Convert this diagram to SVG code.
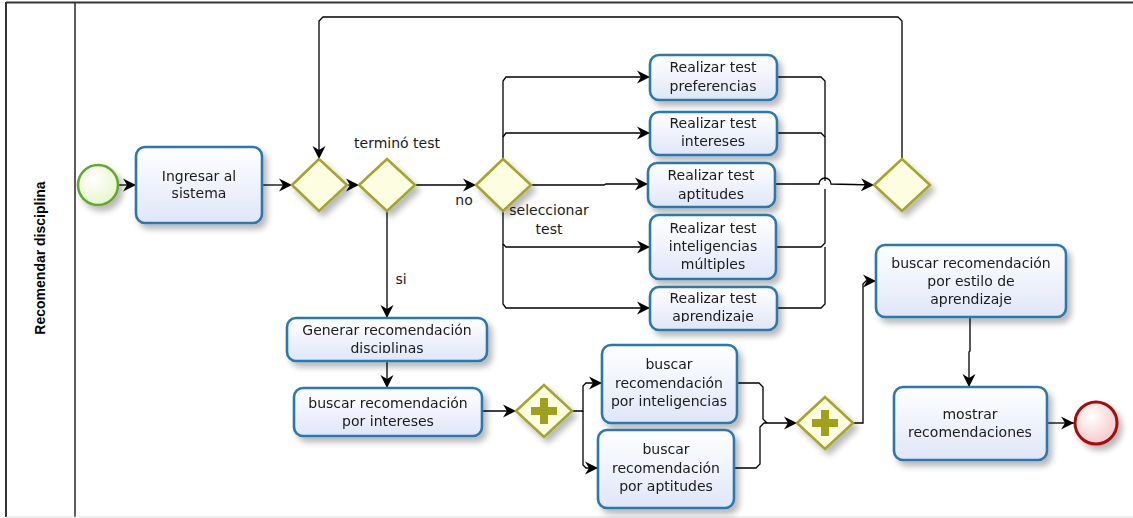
<svg xmlns="http://www.w3.org/2000/svg" width="1133" height="518" viewBox="0 0 1133 518">
  <defs>
    <linearGradient id="taskFill" x1="0" y1="0" x2="0" y2="1">
      <stop offset="0" stop-color="#ffffff"/>
      <stop offset="1" stop-color="#dfe6f8"/>
    </linearGradient>
    <radialGradient id="startFill" cx="0.4" cy="0.35" r="0.7">
      <stop offset="0" stop-color="#ffffff"/>
      <stop offset="1" stop-color="#e6f5c8"/>
    </radialGradient>
    <radialGradient id="endFill" cx="0.4" cy="0.35" r="0.7">
      <stop offset="0" stop-color="#ffffff"/>
      <stop offset="1" stop-color="#f3c6c6"/>
    </radialGradient>
    <filter id="shadow" x="-20%" y="-20%" width="150%" height="160%">
      <feGaussianBlur in="SourceAlpha" stdDeviation="3"/>
      <feOffset dx="4" dy="5" result="b"/>
      <feComponentTransfer><feFuncA type="linear" slope="0.28"/></feComponentTransfer>
      <feMerge><feMergeNode/><feMergeNode in="SourceGraphic"/></feMerge>
    </filter>
    <marker id="arrow" markerUnits="userSpaceOnUse" markerWidth="14" markerHeight="14" refX="13" refY="7" orient="auto">
      <path d="M0,0.5 L13,7 L0,13.5 L4,7 Z" fill="#000"/>
    </marker>
    <clipPath id="clipAprend"><rect x="650" y="287" width="127" height="35"/></clipPath>
    <clipPath id="clipGenerar"><rect x="287" y="318" width="200" height="35"/></clipPath>
    <style>
      .task { fill: url(#taskFill); stroke: #2a78ad; stroke-width: 2.6; }
      .gw { fill: #fdfde2; stroke: #a5a52c; stroke-width: 2.6; }
      .plus { fill: #a0a01e; }
      .lbl { font-family: "DejaVu Sans", "Liberation Sans", sans-serif; font-size: 14px; fill: #1a1a1a; text-anchor: middle; }
      .edge { fill: none; stroke: #000; stroke-width: 1.3; }
      .arr { marker-end: url(#arrow); }
      .lane { font-family: "Liberation Sans", "DejaVu Sans", sans-serif; font-size: 14px; font-weight: bold; fill: #000; text-anchor: middle; }
    </style>
  </defs>

  <rect width="1133" height="518" fill="#ffffff"/>

  <!-- pool and lane -->
  <g id="pool">
    <line x1="6" y1="2.5" x2="1133" y2="2.5" stroke="#333" stroke-width="2"/>
    <line x1="6" y1="2" x2="6" y2="517" stroke="#333" stroke-width="2"/>
    <line x1="75" y1="2" x2="75" y2="517" stroke="#333" stroke-width="1.6"/>
    <line x1="6" y1="517" x2="1133" y2="517" stroke="#dcdcdc" stroke-width="1"/>
    <text class="lane" transform="translate(45,258) rotate(-90)">Recomendar disciplina</text>
  </g>

  <!-- connectors -->
  <g id="connectors">
    <path class="edge arr" d="M118,185 L136,185"/>
    <path class="edge arr" d="M262,185 L292,185"/>
    <path class="edge arr" d="M347,185 L359,185"/>
    <path class="edge arr" d="M415,185 L476,185"/>
    <path class="edge arr" d="M387,211 L387,318"/>
    <!-- loop back from the closing gateway -->
    <path class="edge arr" d="M902,159 L902,21 L898,17 L323,17 L319,21 L319,159"/>
    <!-- test selection branches -->
    <path class="edge arr" d="M503,159 L503,81 L506,77 L650,77"/>
    <path class="edge arr" d="M503,137 L506,133 L650,133"/>
    <path class="edge arr" d="M531,185 L604,185 L606,184 L648,184"/>
    <path class="edge arr" d="M503,211 L503,244 L506,247 L650,247"/>
    <path class="edge arr" d="M503,244 L503,304 L506,308 L650,308"/>
    <!-- test outputs into the closing gateway -->
    <path class="edge" d="M777,77 L821,77 L825,81 L825,181"/>
    <path class="edge" d="M777,133 L821,133 L825,137"/>
    <path class="edge arr" d="M775,184 L819,184 A6,6 0 0 1 831,184 L874,185"/>
    <path class="edge" d="M776,247 L821,247 L825,243 L825,189"/>
    <path class="edge" d="M777,308 L821,308 L825,304 L825,247"/>
    <!-- recommendation flow -->
    <path class="edge arr" d="M387,361 L387,388"/>
    <path class="edge arr" d="M482,411 L516,411"/>
    <path class="edge arr" d="M572,411 L583,411 L583,386 L586,383 L602,383"/>
    <path class="edge arr" d="M583,411 L583,465 L586,468 L598,468"/>
    <path class="edge" d="M737,383 L759,383 L763,387 L763,419 L767,423"/>
    <path class="edge arr" d="M734,468 L756,468 L760,464 L760,427 L764,423 L797,423"/>
    <path class="edge arr" d="M853,423 L863,423 L863,284 L866,281 L876,281"/>
    <path class="edge arr" d="M970,317 L970,351 L969,352 L969,387"/>
    <path class="edge arr" d="M1047,423 L1074,423"/>
  </g>

  <!-- gateway labels -->
  <g id="labels">
    <text class="lbl" x="397" y="148">terminó test</text>
    <text class="lbl" x="464" y="205">no</text>
    <text class="lbl" x="549" y="215">seleccionar</text>
    <text class="lbl" x="549" y="234">test</text>
    <text class="lbl" x="401" y="284">si</text>
  </g>

  <g id="start" filter="url(#shadow)">
    <circle cx="98" cy="185" r="20" fill="url(#startFill)" stroke="#62a82f" stroke-width="2.6"/>
  </g>

  <g id="ingresar" filter="url(#shadow)">
    <rect class="task" x="136" y="147" width="126" height="76" rx="9"/>
    <text class="lbl" x="199" y="180.5">Ingresar al</text>
    <text class="lbl" x="199" y="198">sistema</text>
  </g>

  <g id="gw-merge" filter="url(#shadow)">
    <polygon class="gw" points="292,185 319,159 347,185 319,211"/>
  </g>
  <g id="gw-termino" filter="url(#shadow)">
    <polygon class="gw" points="359,185 387,159 415,185 387,211"/>
  </g>
  <g id="gw-seleccionar" filter="url(#shadow)">
    <polygon class="gw" points="476,185 503,159 531,185 503,211"/>
  </g>
  <g id="gw-cierre" filter="url(#shadow)">
    <polygon class="gw" points="874,185 902,159 930,185 902,211"/>
  </g>

  <g id="test-preferencias" filter="url(#shadow)">
    <rect class="task" x="650" y="55" width="127" height="45" rx="9"/>
    <text class="lbl" x="713" y="72">Realizar test</text>
    <text class="lbl" x="713" y="90.5">preferencias</text>
  </g>
  <g id="test-intereses" filter="url(#shadow)">
    <rect class="task" x="650" y="112" width="127" height="43" rx="9"/>
    <text class="lbl" x="713" y="128">Realizar test</text>
    <text class="lbl" x="713" y="146">intereses</text>
  </g>
  <g id="test-aptitudes" filter="url(#shadow)">
    <rect class="task" x="648" y="163" width="127" height="44" rx="9"/>
    <text class="lbl" x="711" y="180">Realizar test</text>
    <text class="lbl" x="711" y="198.5">aptitudes</text>
  </g>
  <g id="test-inteligencias" filter="url(#shadow)">
    <rect class="task" x="650" y="215" width="126" height="64" rx="9"/>
    <text class="lbl" x="713" y="232.5">Realizar test</text>
    <text class="lbl" x="713" y="251">inteligencias</text>
    <text class="lbl" x="713" y="269">múltiples</text>
  </g>
  <g id="test-aprendizaje" filter="url(#shadow)">
    <rect class="task" x="650" y="287" width="127" height="43" rx="9"/>
    <g clip-path="url(#clipAprend)">
      <text class="lbl" x="713" y="303">Realizar test</text>
      <text class="lbl" x="713" y="321">aprendizaje</text>
    </g>
  </g>

  <g id="generar" filter="url(#shadow)">
    <rect class="task" x="287" y="318" width="200" height="43" rx="9"/>
    <g clip-path="url(#clipGenerar)">
      <text class="lbl" x="387" y="334.5">Generar recomendación</text>
      <text class="lbl" x="387" y="352.5">disciplinas</text>
    </g>
  </g>

  <g id="buscar-intereses" filter="url(#shadow)">
    <rect class="task" x="294" y="388" width="188" height="48" rx="9"/>
    <text class="lbl" x="388" y="407.5">buscar recomendación</text>
    <text class="lbl" x="388" y="425.5">por intereses</text>
  </g>

  <g id="gw-paralelo-1" filter="url(#shadow)">
    <polygon class="gw" points="516,411 544,385 572,411 544,437"/>
    <path class="plus" d="M540,398 h8 v9 h9 v8 h-9 v9 h-8 v-9 h-9 v-8 h9 Z"/>
  </g>

  <g id="buscar-inteligencias" filter="url(#shadow)">
    <rect class="task" x="602" y="345" width="135" height="78" rx="9"/>
    <text class="lbl" x="669" y="368.5">buscar</text>
    <text class="lbl" x="669" y="387.5">recomendación</text>
    <text class="lbl" x="669" y="405.5">por inteligencias</text>
  </g>
  <g id="buscar-aptitudes" filter="url(#shadow)">
    <rect class="task" x="598" y="430" width="136" height="78" rx="9"/>
    <text class="lbl" x="666" y="453.5">buscar</text>
    <text class="lbl" x="666" y="472.5">recomendación</text>
    <text class="lbl" x="666" y="490.5">por aptitudes</text>
  </g>

  <g id="gw-paralelo-2" filter="url(#shadow)">
    <polygon class="gw" points="797,423 825,397 853,423 825,449"/>
    <path class="plus" d="M821,410 h8 v9 h9 v8 h-9 v9 h-8 v-9 h-9 v-8 h9 Z"/>
  </g>

  <g id="buscar-estilo" filter="url(#shadow)">
    <rect class="task" x="876" y="245" width="190" height="72" rx="9"/>
    <text class="lbl" x="971" y="267.5">buscar recomendación</text>
    <text class="lbl" x="971" y="285.5">por estilo de</text>
    <text class="lbl" x="971" y="303.5">aprendizaje</text>
  </g>

  <g id="mostrar" filter="url(#shadow)">
    <rect class="task" x="894" y="387" width="153" height="73" rx="9"/>
    <text class="lbl" x="970" y="418.5">mostrar</text>
    <text class="lbl" x="970" y="436.5">recomendaciones</text>
  </g>

  <g id="end" filter="url(#shadow)">
    <circle cx="1096" cy="423" r="21" fill="url(#endFill)" stroke="#a50d0d" stroke-width="3"/>
  </g>
</svg>
